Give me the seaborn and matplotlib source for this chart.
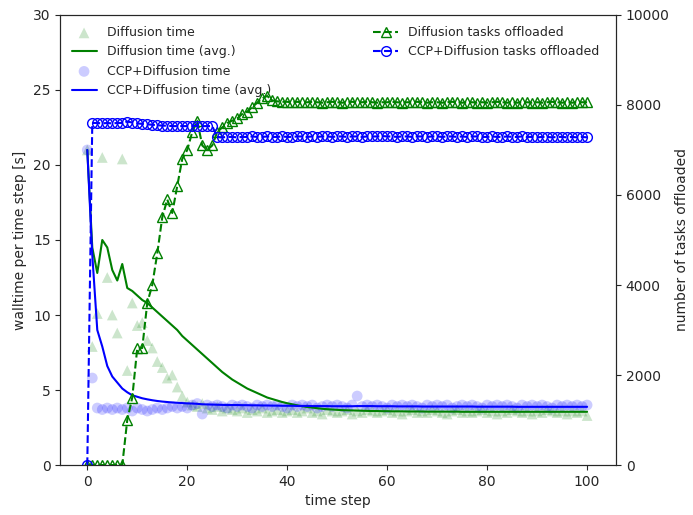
import matplotlib
matplotlib.use("Agg")
import matplotlib.pyplot as plt
import seaborn as sns

steps = list(range(101))

diff_time = [21.0, 7.9, 10.1, 20.5, 12.5, 10.0, 8.8, 20.4, 6.3, 10.8,
             9.3, 9.5, 8.3, 7.8, 6.9, 6.5, 5.8, 6.0, 5.2, 4.6,
             4.2, 4.0, 3.9, 4.1, 3.8, 3.7, 3.9, 3.6, 3.8, 3.7,
             3.6, 3.8, 3.5, 3.7, 3.6, 3.8, 3.5, 3.6, 3.7, 3.5,
             3.6, 3.7, 3.5, 3.6, 3.8, 3.5, 3.6, 3.4, 3.7, 3.6,
             3.5, 3.6, 3.7, 3.4, 3.6, 3.5, 3.7, 3.6, 3.5, 3.6,
             3.7, 3.5, 3.6, 3.4, 3.6, 3.7, 3.5, 3.6, 3.5, 3.7,
             3.6, 3.5, 3.4, 3.6, 3.7, 3.5, 3.6, 3.5, 3.6, 3.7,
             3.5, 3.6, 3.4, 3.6, 3.5, 3.7, 3.6, 3.5, 3.6, 3.4,
             3.6, 3.5, 3.7, 3.6, 3.5, 3.6, 3.4, 3.6, 3.5, 3.6,
             3.3]

diff_avg = [21.0, 14.5, 12.8, 15.0, 14.5, 13.0, 12.3, 13.4, 11.8, 11.6,
            11.3, 11.0, 10.8, 10.5, 10.2, 9.9, 9.6, 9.3, 9.0, 8.6,
            8.3, 8.0, 7.7, 7.4, 7.1, 6.8, 6.5, 6.2, 5.95, 5.7,
            5.5, 5.3, 5.1, 4.95, 4.8, 4.65, 4.5, 4.4, 4.3, 4.2,
            4.12, 4.05, 3.98, 3.92, 3.87, 3.83, 3.79, 3.75, 3.72, 3.7,
            3.68, 3.66, 3.65, 3.64, 3.63, 3.62, 3.61, 3.6, 3.6, 3.59,
            3.59, 3.58, 3.58, 3.58, 3.57, 3.57, 3.57, 3.57, 3.56, 3.56,
            3.56, 3.56, 3.56, 3.56, 3.56, 3.55, 3.55, 3.55, 3.55, 3.55,
            3.55, 3.55, 3.55, 3.55, 3.55, 3.55, 3.55, 3.55, 3.55, 3.55,
            3.55, 3.55, 3.55, 3.55, 3.55, 3.55, 3.55, 3.55, 3.55, 3.55,
            3.55]

ccp_time = [21.0, 5.8, 3.8, 3.7, 3.8, 3.7, 3.8, 3.7, 3.8, 3.6,
            3.8, 3.7, 3.6, 3.7, 3.8, 3.7, 3.8, 3.9, 3.8, 3.9,
            3.8, 4.0, 4.1, 3.4, 4.0, 3.9, 4.0, 3.9, 3.8, 4.0,
            3.9, 4.0, 3.9, 3.8, 4.0, 3.9, 4.0, 3.9, 4.0, 3.9,
            3.8, 4.0, 3.9, 4.0, 3.9, 4.0, 3.8, 3.9, 4.0, 3.9,
            4.0, 3.9, 3.8, 4.0, 4.6, 3.9, 4.0, 3.9, 4.0, 3.9,
            3.8, 4.0, 3.9, 4.0, 3.9, 4.0, 3.9, 3.8, 4.0, 3.9,
            4.0, 3.9, 4.0, 3.8, 3.9, 4.0, 3.9, 4.0, 3.9, 3.8,
            4.0, 3.9, 4.0, 3.9, 4.0, 3.9, 3.8, 4.0, 3.9, 4.0,
            3.9, 4.0, 3.9, 3.8, 4.0, 3.9, 4.0, 3.9, 4.0, 3.9,
            4.0]

ccp_avg = [21.0, 14.0, 9.0, 7.9, 6.6, 5.9, 5.5, 5.1, 4.85, 4.65,
           4.55, 4.45, 4.38, 4.32, 4.27, 4.23, 4.2, 4.17, 4.15, 4.13,
           4.11, 4.1, 4.08, 4.05, 4.04, 4.03, 4.02, 4.01, 4.0, 4.0,
           4.0, 3.99, 3.99, 3.98, 3.98, 3.97, 3.97, 3.96, 3.96, 3.95,
           3.95, 3.95, 3.94, 3.94, 3.94, 3.93, 3.93, 3.93, 3.93, 3.92,
           3.92, 3.92, 3.92, 3.92, 3.93, 3.93, 3.93, 3.93, 3.92, 3.92,
           3.92, 3.92, 3.91, 3.91, 3.91, 3.91, 3.91, 3.9, 3.9, 3.9,
           3.9, 3.9, 3.9, 3.9, 3.9, 3.9, 3.9, 3.9, 3.89, 3.89,
           3.89, 3.89, 3.89, 3.89, 3.89, 3.89, 3.88, 3.88, 3.88, 3.88,
           3.88, 3.88, 3.88, 3.88, 3.88, 3.88, 3.88, 3.88, 3.88, 3.88,
           3.88]

diff_tasks = [0, 0, 0, 0, 0, 0, 0, 0, 1000, 1500,
              2600, 2600, 3600, 4000, 4700, 5500, 5900, 5600, 6200, 6800,
              7000, 7400, 7650, 7100, 7000, 7100, 7400, 7500, 7600, 7650,
              7700, 7800, 7850, 7950, 8050, 8150, 8200, 8100, 8080, 8070,
              8070, 8060, 8070, 8060, 8060, 8070, 8060, 8050, 8060, 8070,
              8060, 8050, 8060, 8070, 8060, 8060, 8070, 8060, 8050, 8060,
              8060, 8070, 8060, 8050, 8060, 8060, 8070, 8060, 8050, 8060,
              8060, 8050, 8060, 8070, 8060, 8050, 8060, 8060, 8050, 8060,
              8050, 8060, 8070, 8060, 8050, 8060, 8050, 8060, 8060, 8050,
              8060, 8050, 8060, 8070, 8060, 8050, 8060, 8050, 8060, 8060,
              8060]

ccp_tasks = [0, 7600, 7600, 7590, 7600, 7590, 7600, 7600, 7630, 7610,
             7590, 7580, 7570, 7560, 7550, 7540, 7540, 7530, 7530, 7530,
             7530, 7530, 7540, 7530, 7530, 7530, 7290, 7280, 7290, 7290,
             7280, 7290, 7290, 7300, 7290, 7290, 7300, 7290, 7290, 7300,
             7290, 7290, 7300, 7300, 7290, 7300, 7290, 7300, 7300, 7290,
             7300, 7300, 7290, 7300, 7300, 7290, 7300, 7300, 7300, 7310,
             7300, 7300, 7290, 7300, 7300, 7290, 7300, 7300, 7290, 7300,
             7300, 7290, 7300, 7300, 7290, 7300, 7290, 7300, 7300, 7290,
             7290, 7300, 7290, 7290, 7300, 7290, 7290, 7300, 7290, 7290,
             7280, 7290, 7290, 7280, 7290, 7290, 7280, 7290, 7280, 7290,
             7280]

sns.set_style("ticks")
plt.rcParams['font.family'] = ['DejaVu Sans']
fig, ax = plt.subplots(figsize=(6.93, 5.15), dpi=100)
ax2 = ax.twinx()

sns.scatterplot(x=steps, y=diff_time, ax=ax, marker="^", color="green", alpha=0.2,
                s=60, edgecolor="none", label="Diffusion time")
sns.lineplot(x=steps, y=diff_avg, ax=ax, color="green", lw=1.5, label="Diffusion time (avg.)")
sns.scatterplot(x=steps, y=ccp_time, ax=ax, marker="o", color="blue", alpha=0.2,
                s=60, edgecolor="none", label="CCP+Diffusion time")
sns.lineplot(x=steps, y=ccp_avg, ax=ax, color="blue", lw=1.5, label="CCP+Diffusion time (avg.)")

ax2.plot(steps, diff_tasks, color="green", ls="--", lw=1.5, marker="^", mfc="none",
         markersize=7, label="Diffusion tasks offloaded")
ax2.plot(steps, ccp_tasks, color="blue", ls="--", lw=1.5, marker="o", mfc="none",
         markersize=7, label="CCP+Diffusion tasks offloaded")

ax.set_xlim(-5.4, 105.8)
ax.set_ylim(0, 30)
ax2.set_ylim(0, 10000)
ax.set_xlabel("time step")
ax.set_ylabel("walltime per time step [s]")
ax2.set_ylabel("number of tasks offloaded")
ax.legend(loc="upper left", frameon=False, fontsize=9)
ax2.legend(loc="upper right", bbox_to_anchor=(0.99, 1.0), frameon=False, fontsize=9)
fig.subplots_adjust(left=0.087, right=0.889, top=0.971, bottom=0.097)
fig.savefig("out.png")
